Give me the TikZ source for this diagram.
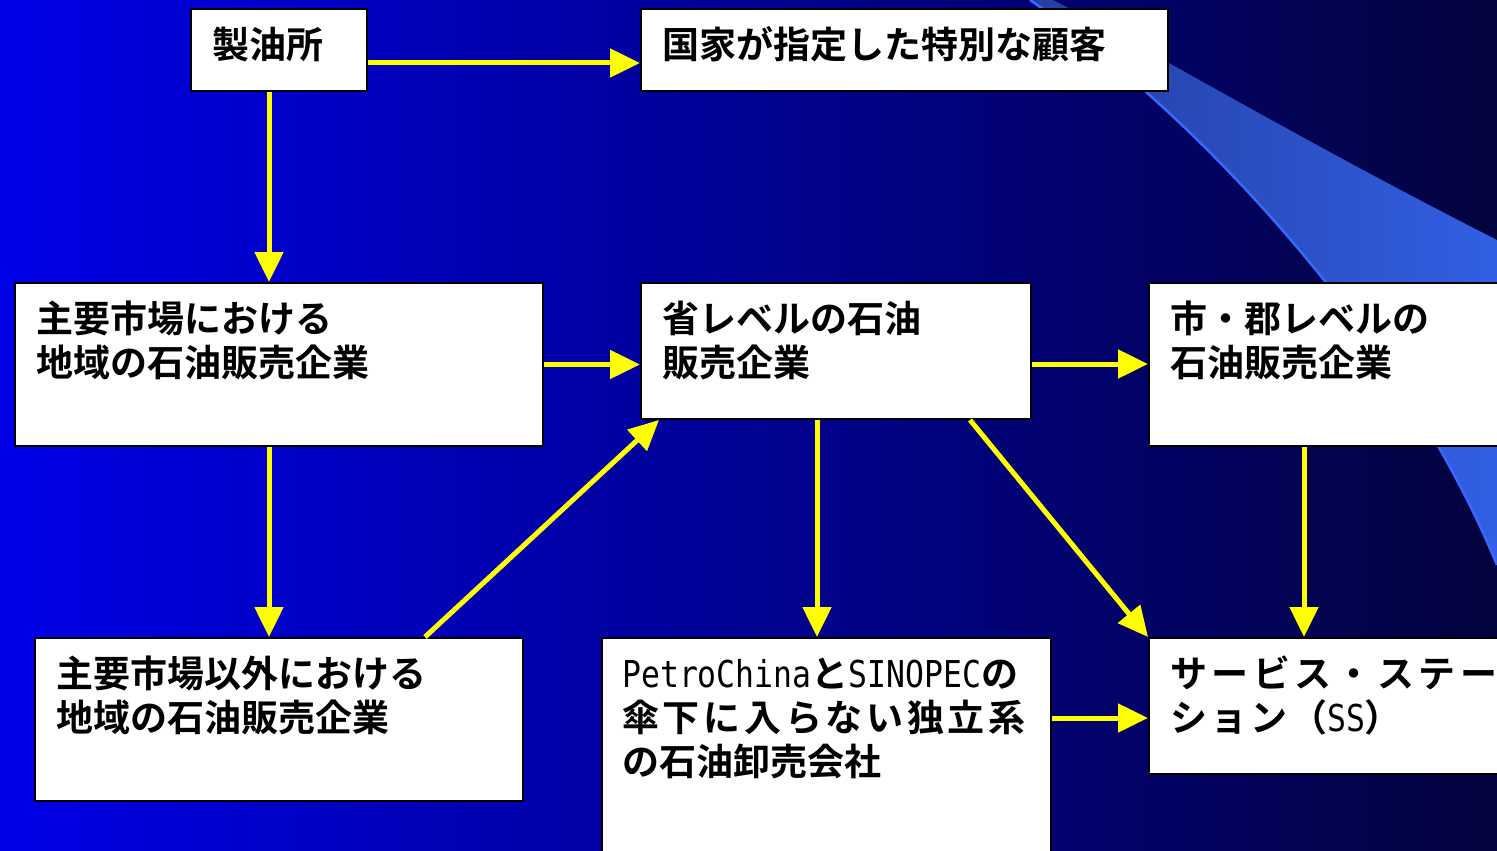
\documentclass[tikz,border=0pt]{standalone}
\usepackage{fontspec}
\newfontfamily\jp{Noto Sans CJK JP}[BoldFont={Noto Sans CJK JP Bold}]
\newfontfamily\lat{DejaVu Sans Mono}[FakeStretch=0.85]
\usetikzlibrary{arrows.meta,calc}
\definecolor{bgL}{RGB}{0,0,232}
\definecolor{bgM}{RGB}{0,0,150}
\definecolor{bgR}{RGB}{3,3,62}
\definecolor{swL}{RGB}{36,62,160}
\definecolor{swR}{RGB}{50,95,228}
\definecolor{swE}{RGB}{55,105,255}
\definecolor{arrY}{RGB}{255,255,0}
\newcommand\tst{\rule{0pt}{34pt}}
\newcommand\wide[2]{{\addfontfeature{LetterSpace=#1}#2}}
\begin{document}
\begin{tikzpicture}[x=1pt,y=-1pt,
  box/.style={draw=black,line width=2pt,fill=white,anchor=north west,inner sep=0pt},
  lbl/.style={anchor=north west,inner sep=0pt,align=left,font=\jp\bfseries\fontsize{37}{44}\selectfont},
  arr/.style={draw=arrY,line width=5pt,-{Triangle[length=30pt,width=28pt]}}]
\useasboundingbox (0,0) rectangle (1497,851);
\clip (0,0) rectangle (1497,851);
% background
\shade[left color=bgL,middle color=bgM,right color=bgR] (0,0) rectangle (1497,851);
% swoosh
\shade[left color=swL,right color=swR] (1030,0) .. controls (1190,110) and (1400,330) .. (1497,565) -- (1497,240) .. controls (1300,140) and (1150,50) .. (1053,0) -- cycle;
\draw[swE,line width=2.5pt] (1030,0) .. controls (1190,110) and (1400,330) .. (1497,565);
% boxes
\node[box,minimum width=176pt,minimum height=82pt] (ref) at (190,8) {};
\node[box,minimum width=527pt,minimum height=82pt] (kokka) at (640,8) {};
\node[box,minimum width=528pt,minimum height=163pt] (shuyo) at (14,282) {};
\node[box,minimum width=390pt,minimum height=136pt] (sho) at (640,282) {};
\node[box,minimum width=400pt,minimum height=163pt] (shi) at (1148,282) {};
\node[box,minimum width=488pt,minimum height=163pt] (igai) at (34,637) {};
\node[box,minimum width=449pt,minimum height=250pt] (petro) at (601,637) {};
\node[box,minimum width=400pt,minimum height=136pt] (ss) at (1148,637) {};
% labels
\node[lbl] (tref) at ([xshift=22pt,yshift=-16pt]ref.north west) {\tst 製油所};
\node[lbl] (tkokka) at ([xshift=22pt,yshift=-16pt]kokka.north west) {\tst 国家が指定した特別な顧客};
\node[lbl] (tshuyo) at ([xshift=22pt,yshift=-16pt]shuyo.north west) {\tst 主要市場における\\地域の石油販売企業};
\node[lbl] (tsho) at ([xshift=22pt,yshift=-16pt]sho.north west) {\tst 省レベルの石油\\販売企業};
\node[lbl] (tshi) at ([xshift=22pt,yshift=-16pt]shi.north west) {\tst 市・郡レベルの\\石油販売企業};
\node[lbl] (tigai) at ([xshift=22pt,yshift=-16pt]igai.north west) {\tst 主要市場以外における\\地域の石油販売企業};
\node[lbl] (tpetro) at ([xshift=21pt,yshift=-16pt]petro.north west) {\tst {\lat\mdseries PetroChina}と{\lat\mdseries SINOPEC}の\\\wide{10}{傘下に入らない独立系}\\の石油卸売会社};
\node[lbl] (tss) at ([xshift=22pt,yshift=-16pt]ss.north west) {\tst \wide{12}{サービス・ステー}\\\wide{8}{ション（}{\lat\mdseries SS}）};
% arrows
\draw[arr] ([yshift=-13pt]ref.east) coordinate (a1) -- (a1 -| kokka.west);
\draw[arr] ([xshift=-10pt]ref.south) coordinate (a2) -- (a2 |- shuyo.north);
\draw[arr] (shuyo.east) -- (shuyo.east -| sho.west);
\draw[arr] ([xshift=-10pt]shuyo.south) coordinate (a4) -- (a4 |- igai.north);
\draw[arr] ([xshift=391pt]igai.north west) -- ([xshift=19pt]sho.south west);
\draw[arr] ([xshift=-19pt]sho.south) coordinate (a6) -- (a6 |- petro.north);
\draw[arr] ([xshift=330pt]sho.south west) -- (ss.north west);
\draw[arr] ([yshift=-13pt]sho.east) coordinate (a8) -- (a8 -| shi.west);
\draw[arr] ([xshift=156pt]shi.south west) coordinate (a9) -- (a9 |- ss.north);
\draw[arr] ([yshift=-81pt]petro.north east) coordinate (a10) -- (a10 -| ss.west);
\end{tikzpicture}
\end{document}
